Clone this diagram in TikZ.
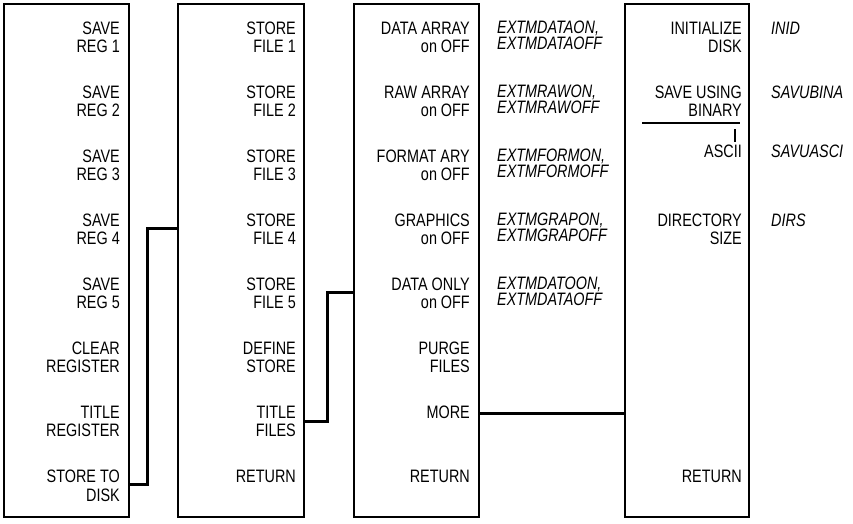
\documentclass[tikz,border=0pt]{standalone}
\usepackage{fontspec}
\setmainfont{Liberation Sans}[FakeStretch=0.8]
\tikzset{
  box/.style={draw, line width=2pt, inner sep=0pt, anchor=north west, minimum height=513pt},
  conn/.style={draw, line width=3pt, line join=miter},
  lbl/.style={anchor=base east, align=right, inner sep=0pt, font=\fontsize{18}{18.3}\selectfont},
  cmd/.style={anchor=base west, align=left, inner sep=0pt, font=\fontsize{18}{16.5}\selectfont\itshape},
}
\begin{document}
\begin{tikzpicture}[x=1pt,y=-1pt]
\useasboundingbox (0,0) rectangle (853,523);
% boxes
\node[box, minimum width=125pt] (b1) at (3,3) {};
\node[box, minimum width=126pt] (b2) at (177,3) {};
\node[box, minimum width=125pt] (b3) at (353,3) {};
\node[box, minimum width=124pt] (b4) at (624,3) {};
% box 1 (anchor = baseline of last line)
\node[lbl] (a1) at (120,52.3) {SAVE\\REG 1};
\node[lbl] (a2) at (120,116.4) {SAVE\\REG 2};
\node[lbl] (a3) at (120,180.5) {SAVE\\REG 3};
\node[lbl] (a4) at (120,244.6) {SAVE\\REG 4};
\node[lbl] (a5) at (120,308.7) {SAVE\\REG 5};
\node[lbl] (a6) at (120,372.8) {CLEAR\\REGISTER};
\node[lbl] (a7) at (120,436.9) {TITLE\\REGISTER};
\node[lbl] (a8) at (120,501.0) {STORE TO\\DISK};
% box 2
\node[lbl] (f1) at (296,52.3) {STORE\\FILE 1};
\node[lbl] (f2) at (296,116.4) {STORE\\FILE 2};
\node[lbl] (f3) at (296,180.5) {STORE\\FILE 3};
\node[lbl] (f4) at (296,244.6) {STORE\\FILE 4};
\node[lbl] (f5) at (296,308.7) {STORE\\FILE 5};
\node[lbl] (f6) at (296,372.8) {DEFINE\\STORE};
\node[lbl] (f7) at (296,436.9) {TITLE\\FILES};
\node[lbl] (f8) at (296,482.7) {RETURN};
% box 3
\node[lbl] (d1) at (470,52.3) {DATA ARRAY\\on OFF};
\node[lbl] (d2) at (470,116.4) {RAW ARRAY\\on OFF};
\node[lbl] (d3) at (470,180.5) {FORMAT ARY\\on OFF};
\node[lbl] (d4) at (470,244.6) {GRAPHICS\\on OFF};
\node[lbl] (d5) at (470,308.7) {DATA ONLY\\on OFF};
\node[lbl] (d6) at (470,372.8) {PURGE\\FILES};
\node[lbl] (d7) at (470,418.6) {MORE};
\node[lbl] (d8) at (470,482.7) {RETURN};
% commands beside box 3
\node[cmd] (e1) at (497,49.5) {EXTMDATAON,\\EXTMDATAOFF};
\node[cmd] (e2) at (497,113.6) {EXTMRAWON,\\EXTMRAWOFF};
\node[cmd] (e3) at (497,177.7) {EXTMFORMON,\\EXTMFORMOFF};
\node[cmd] (e4) at (497,241.8) {EXTMGRAPON,\\EXTMGRAPOFF};
\node[cmd] (e5) at (497,305.9) {EXTMDATOON,\\EXTMDATAOFF};
% box 4
\node[lbl] (g1) at (742,52.3) {INITIALIZE\\DISK};
\node[lbl] (g2) at (742,116.4) {SAVE USING\\BINARY};
\node[lbl] (g3) at (742,157.7) {ASCII};
\node[lbl] (g4) at (742,244.6) {DIRECTORY\\SIZE};
\node[lbl] (g8) at (742,482.7) {RETURN};
\coordinate (dl) at (642,123);
\coordinate (dr) at (740,123);
\draw[line width=1.6pt] (dl) -- (dr);
\coordinate (vt) at (735,129);
\coordinate (vb) at (735,142);
\draw[line width=1.2pt] (vt) -- (vb);
% commands beside box 4
\node[cmd] (h1) at (771,34) {INID};
\node[cmd] (h2) at (771,98.1) {SAVUBINA};
\node[cmd] (h3) at (771,157.7) {SAVUASCI};
\node[cmd] (h4) at (771,226.3) {DIRS};
% connectors
\coordinate (k1) at (147,228);
\coordinate (k2) at (327,292);
\draw[conn] (b1.east |- 0,484) -| (k1) -- (b2.west |- k1);
\draw[conn] (b2.east |- 0,421) -| (k2) -- (b3.west |- k2);
\draw[conn] (b3.east |- 0,413) -- (b4.west |- 0,413);
\end{tikzpicture}
\end{document}
